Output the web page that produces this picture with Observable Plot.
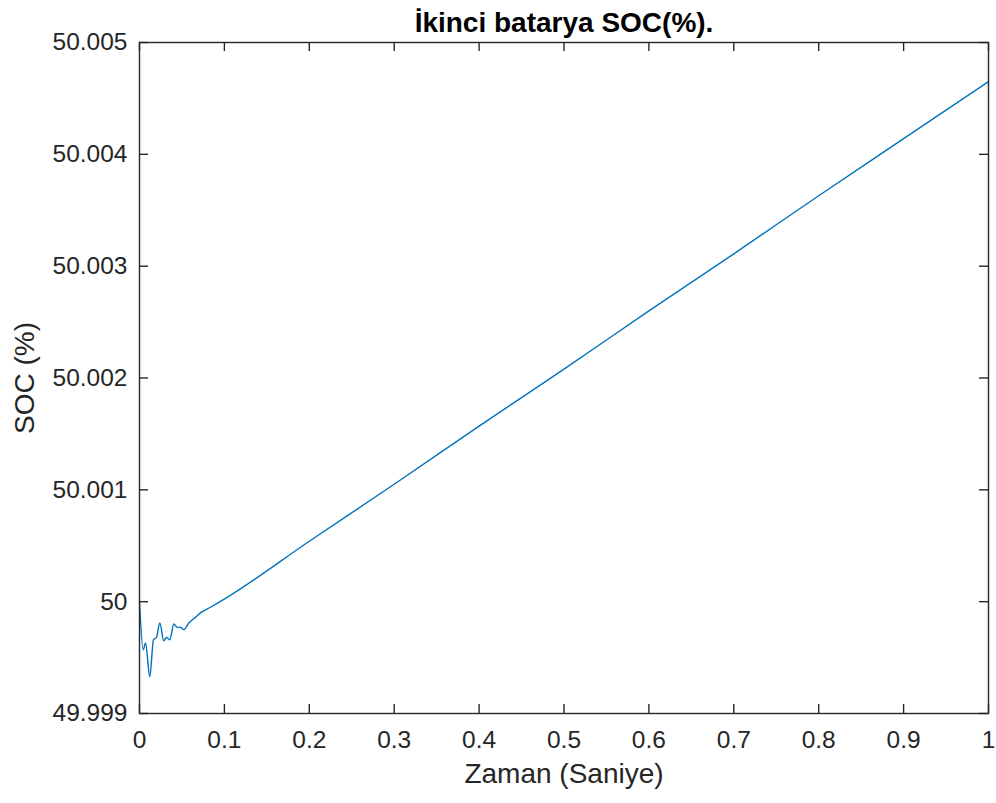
<!DOCTYPE html>
<html>
<head>
<meta charset="utf-8">
<script src="https://cdn.jsdelivr.net/npm/d3@7"></script>
<script src="https://cdn.jsdelivr.net/npm/@observablehq/plot@0.6"></script>
<style>
  html, body { margin: 0; padding: 0; background: #ffffff; }
  #chart { width: 996px; height: 803px; }
</style>
</head>
<body>
<div id="chart"></div>
<script>
// ---- data ----
const chartTitle = "İkinci batarya SOC(%).";
const xLabel = "Zaman (Saniye)";
const yLabel = "SOC (%)";

const timeSec = [0, 0.0044, 0.0071, 0.0121, 0.0165, 0.0200, 0.0239, 0.0286, 0.0318, 0.0357,
  0.0405, 0.0444, 0.0483, 0.0522, 0.0581, 0.0660, 0.0718, 0.0836, 0.0993,
  0.2, 0.3, 0.4, 0.5, 0.6, 0.7, 0.8, 0.9, 1.0];
const socPct = [50.00000, 49.99957, 49.99963, 49.99933, 49.99966, 49.99968, 49.99981, 49.99965, 49.99968, 49.99966,
  49.99980, 49.99977, 49.99977, 49.99975, 49.99981, 49.99986, 49.99990, 49.99995, 50.00002,
  50.00054, 50.00105, 50.00157, 50.00208, 50.00260, 50.00311, 50.00363, 50.00414, 50.00465];

const xTicks = [0, 0.1, 0.2, 0.3, 0.4, 0.5, 0.6, 0.7, 0.8, 0.9, 1];
const xTickLabels = ["0", "0.1", "0.2", "0.3", "0.4", "0.5", "0.6", "0.7", "0.8", "0.9", "1"];
const yTicks = [49.999, 50, 50.001, 50.002, 50.003, 50.004, 50.005];
const yTickLabels = ["49.999", "50", "50.001", "50.002", "50.003", "50.004", "50.005"];

// ---- layout ----
const W = 996, H = 803;
const mTop = 42, mBottom = 90, mLeft = 139, mRight = 8;
const plotW = W - mLeft - mRight, plotH = H - mTop - mBottom;
const tickLen = 9;
const axisColor = "#262626";

const xFmt = d => xTickLabels[xTicks.indexOf(d)];
const yFmt = d => yTickLabels[yTicks.indexOf(d)];

const chart = Plot.plot({
  width: W,
  height: H,
  marginTop: mTop,
  marginBottom: mBottom,
  marginLeft: mLeft,
  marginRight: mRight,
  style: {
    fontFamily: "'Liberation Sans', Arial, sans-serif",
    fontSize: "24px",
    color: axisColor,
    background: "#ffffff"
  },
  x: { domain: [0, 1] },
  y: { domain: [49.999, 50.005] },
  marks: [
    Plot.axisX({ ticks: xTicks, tickFormat: xFmt, tickSize: 0, tickPadding: 17, label: null, fontSize: 24.5 }),
    Plot.axisY({ ticks: yTicks, tickFormat: yFmt, tickSize: 0, tickPadding: 12, label: null, fontSize: 24.5 }),
    // inward ticks on all four sides
    Plot.tickX(xTicks, { x: d => d, insetTop: plotH - tickLen, stroke: axisColor, strokeWidth: 1.4 }),
    Plot.tickX(xTicks, { x: d => d, insetBottom: plotH - tickLen, stroke: axisColor, strokeWidth: 1.4 }),
    Plot.tickY(yTicks, { y: d => d, insetRight: plotW - tickLen, stroke: axisColor, strokeWidth: 1.4 }),
    Plot.tickY(yTicks, { y: d => d, insetLeft: plotW - tickLen, stroke: axisColor, strokeWidth: 1.4 }),
    Plot.line(timeSec, { x: timeSec, y: socPct, stroke: "#0072BD", strokeWidth: 1.4, curve: "monotone-x" }),
    Plot.frame({ stroke: axisColor, strokeWidth: 1.4 }),
    Plot.text([chartTitle], { frameAnchor: "top", lineAnchor: "bottom", dy: -11, fontSize: 28, fontWeight: "bold", fill: "#000000" }),
    Plot.text([xLabel], { frameAnchor: "bottom", lineAnchor: "top", dy: 50, fontSize: 28, fill: axisColor }),
    Plot.text([yLabel], { frameAnchor: "left", textAnchor: "middle", rotate: -90, dx: -114, fontSize: 28, fill: axisColor })
  ]
});

document.getElementById("chart").appendChild(chart);
</script>
</body>
</html>
